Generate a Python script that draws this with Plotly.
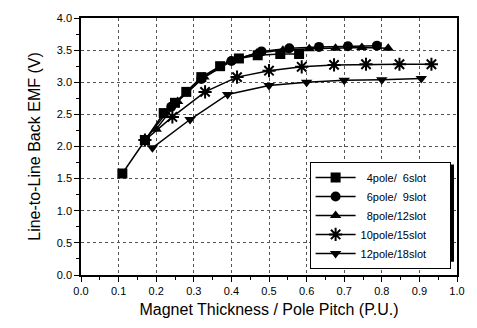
import plotly.graph_objects as go

pad = "\u00a0" * 6
names = ["\u00a0\u00a04pole/\u00a0\u00a06slot" + pad, "\u00a0\u00a06pole/\u00a0\u00a09slot" + pad,
         "\u00a0\u00a08pole/12slot" + pad, "10pole/15slot" + pad, "12pole/18slot" + pad]

x4 = [0.11, 0.17, 0.22, 0.25, 0.28, 0.32, 0.37, 0.42, 0.47, 0.53, 0.58]
y4 = [1.58, 2.10, 2.52, 2.68, 2.85, 3.08, 3.25, 3.37, 3.42, 3.44, 3.44]

x6 = [0.17, 0.24, 0.32, 0.40, 0.48, 0.554, 0.633, 0.71, 0.787]
y6 = [2.10, 2.62, 3.05, 3.33, 3.48, 3.53, 3.55, 3.56, 3.57]

x8 = [0.20, 0.257, 0.327, 0.397, 0.467, 0.537, 0.607, 0.677, 0.747, 0.817]
y8 = [2.27, 2.70, 3.08, 3.33, 3.45, 3.50, 3.52, 3.53, 3.54, 3.53]

x10 = [0.17, 0.243, 0.33, 0.415, 0.50, 0.587, 0.673, 0.758, 0.847, 0.932]
y10 = [2.10, 2.46, 2.85, 3.08, 3.18, 3.24, 3.27, 3.28, 3.28, 3.28]

x12 = [0.19, 0.29, 0.39, 0.50, 0.60, 0.70, 0.80, 0.905]
y12 = [1.98, 2.42, 2.81, 2.95, 3.00, 3.03, 3.04, 3.06]

series = [(x4, y4, "square"), (x6, y6, "circle"), (x8, y8, "triangle-up"),
          (x10, y10, "asterisk-open"), (x12, y12, "triangle-down")]

fig = go.Figure()
for (xs, ys, sym), nm in zip(series, names):
    if sym == "asterisk-open":
        marker = dict(symbol=sym, size=11, color="black", line=dict(color="black", width=2))
    else:
        marker = dict(symbol=sym, size=10, color="black", line=dict(width=0))
    fig.add_trace(go.Scatter(x=xs, y=ys, mode="lines+markers", name=nm,
                             line=dict(color="black", width=1.5), marker=marker))

font = "Liberation Sans, Arial, sans-serif"
axis_common = dict(showline=True, linecolor="black", linewidth=1.5, mirror=True,
                   ticks="outside", ticklen=5, tickwidth=1, tickcolor="black",
                   showgrid=True, gridcolor="#555", griddash="dot", gridwidth=1,
                   zeroline=False, tickfont=dict(family=font, size=11, color="black"))

fig.update_xaxes(range=[0, 1], dtick=0.1, tickformat=".1f",
                 minor=dict(ticks="outside", ticklen=3, dtick=0.05, tickcolor="black", showgrid=False),
                 title=dict(text="Magnet Thickness / Pole Pitch (P.U.)",
                            font=dict(family=font, size=16, color="black"), standoff=8),
                 **axis_common)
fig.update_yaxes(range=[0, 4], dtick=0.5, tickformat=".1f",
                 minor=dict(ticks="outside", ticklen=3, dtick=0.25, tickcolor="black", showgrid=False),
                 title=dict(text="Line-to-Line Back EMF (V)",
                            font=dict(family=font, size=16, color="black"), standoff=12),
                 **axis_common)

# legend shadow
fig.add_shape(type="rect", xref="paper", yref="paper",
              x0=0.618, x1=0.992, y0=0.052, y1=0.43,
              fillcolor="black", line=dict(width=0), layer="above")

fig.update_layout(
    width=477, height=328,
    margin=dict(l=81, r=16, t=13, b=49),
    paper_bgcolor="white", plot_bgcolor="white",
    showlegend=True,
    legend=dict(x=0.608, y=0.44, xanchor="left", yanchor="top",
                bgcolor="white", bordercolor="black", borderwidth=1,
                font=dict(family=font, size=11, color="black"),
                itemwidth=40, tracegroupgap=0),
)

fig.write_html("out.html")
